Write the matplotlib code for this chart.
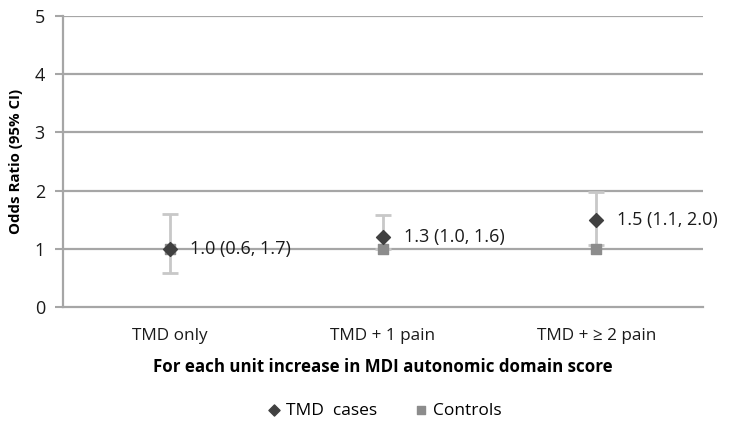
import numpy as np
import matplotlib.pyplot as plt

# Data
groups = ['TMD only', 'TMD + 1 pain', 'TMD + \u2265 2 pain']
cases_or = [1.0, 1.2, 1.5]
ci_low = [0.58, 1.0, 1.07]
ci_high = [1.6, 1.58, 1.98]
controls_or = [1.0, 1.0, 1.0]
labels = ['1.0 (0.6, 1.7)', '1.3 (1.0, 1.6)', '1.5 (1.1, 2.0)']

plt.rcParams['font.family'] = ['Open Sans', 'DejaVu Sans']

fig = plt.figure(figsize=(7.29, 4.28), dpi=100)
ax = fig.add_axes([0.0864, 0.2827, 0.878, 0.68])

x = np.arange(len(groups))
grid_col = '#a6a6a6'

for y in range(1, 6):
    ax.axhline(y, color=grid_col, lw=1.6, zorder=0)

err = [np.array(cases_or) - np.array(ci_low), np.array(ci_high) - np.array(cases_or)]
ax.errorbar(x, cases_or, yerr=err, fmt='none', ecolor='#c8c8c8', elinewidth=2,
            capsize=5.5, capthick=2, zorder=2)
ax.scatter(x, controls_or, marker='s', s=50, color='#8c8c8c', zorder=3, label='Controls')
ax.scatter(x, cases_or, marker='D', s=50, color='#404040', zorder=4, label='TMD  cases')

for xi, yi, t in zip(x, cases_or, labels):
    ax.annotate(t, (xi, yi), xytext=(15, 0), textcoords='offset points',
                va='center', ha='left', fontsize=13, color='#1a1a1a')

ax.set_xlim(-0.5, 2.5)
ax.set_ylim(0, 5)
ax.set_xticks(x)
ax.set_xticklabels(groups, fontsize=12.3, color='#1a1a1a')
ax.set_yticks(range(6))
ax.set_yticklabels([str(i) for i in range(6)], fontsize=13, color='#1a1a1a')
ax.tick_params(axis='x', length=0, pad=15)
ax.tick_params(axis='y', length=6, width=1.5, color=grid_col, pad=7)

for s in ['top', 'right']:
    ax.spines[s].set_visible(False)
ax.spines['left'].set_color(grid_col)
ax.spines['left'].set_linewidth(1.6)
ax.spines['bottom'].set_color(grid_col)
ax.spines['bottom'].set_linewidth(1.6)

ax.set_ylabel('Odds Ratio (95% CI)', fontsize=10.8, fontweight='bold', labelpad=8)
ax.set_xlabel('For each unit increase in MDI autonomic domain score', fontsize=12.2,
              fontweight='bold', labelpad=10)

h, l = ax.get_legend_handles_labels()
fig.legend(h[::-1], l[::-1], loc='center', bbox_to_anchor=(0.52, 0.04), ncol=2,
           frameon=False, fontsize=12.5, handletextpad=-0.3, columnspacing=1.5,
           markerscale=0.8)

fig.savefig('out.png', dpi=100)
